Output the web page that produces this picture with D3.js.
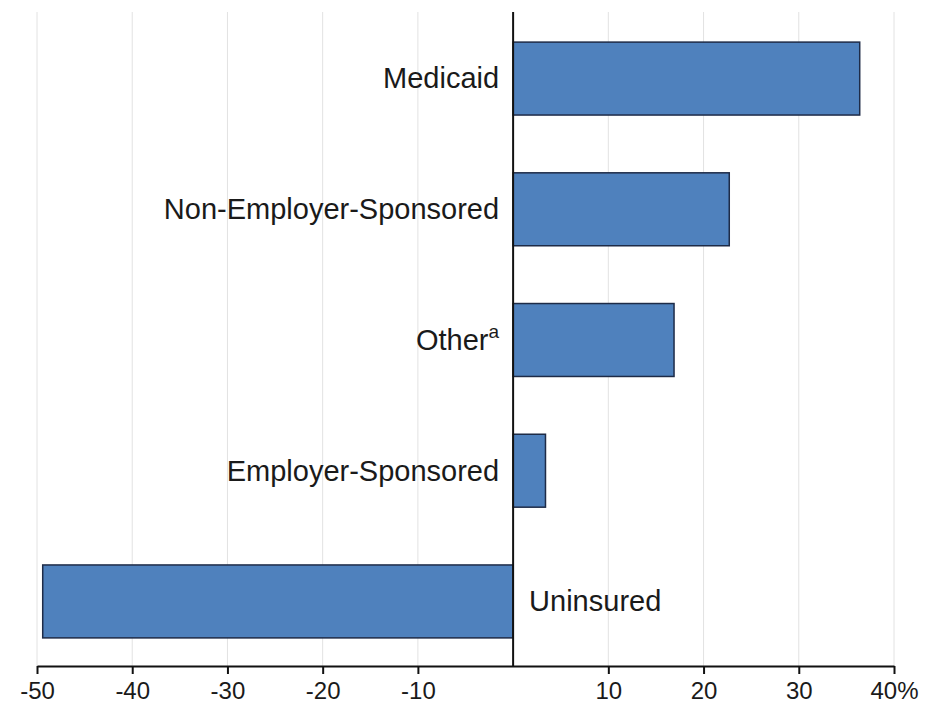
<!DOCTYPE html>
<html>
<head>
<meta charset="utf-8">
<script src="https://cdn.jsdelivr.net/npm/d3@7"></script>
<style>
  body { margin: 0; background: #fff; }
  text { font-family: "Liberation Sans", Arial, sans-serif; fill: #1a1a1a; }
</style>
</head>
<body>
<div id="chart"></div>
<script>
// categories, top to bottom
var categories = ['Medicaid', 'Non-Employer-Sponsored', 'Other', 'Employer-Sponsored', 'Uninsured'];
var values = [36.4, 22.7, 16.9, 3.4, -49.4];
var superscripts = ['', '', 'a', '', ''];
var tickValues = [-50, -40, -30, -20, -10, 10, 20, 30, 40];
var tickLabels = ['-50', '-40', '-30', '-20', '-10', '10', '20', '30', '40%'];

var W = 925, H = 707;
var margins = {left: 37, right: 31, top: 12, bottom: 41};

var svg = d3.select('#chart')
  .append('svg')
  .attr('width', W)
  .attr('height', H);

var x = d3.scaleLinear()
  .domain([-50, 40])
  .range([margins.left, W - margins.right]);

var axisY = H - margins.bottom;

var y = d3.scaleBand()
  .domain(categories)
  .range([margins.top + 2, axisY])
  .paddingInner(0.442)
  .paddingOuter(0.215);

// gridlines
svg.append('g')
  .selectAll('line')
  .data(tickValues)
  .enter().append('line')
  .attr('x1', function(d) { return x(d); })
  .attr('x2', function(d) { return x(d); })
  .attr('y1', margins.top)
  .attr('y2', axisY)
  .attr('stroke', '#e2e2e2')
  .attr('stroke-width', 1);

// bars
svg.append('g')
  .selectAll('rect')
  .data(values)
  .enter().append('rect')
  .attr('x', function(d) { return x(Math.min(0, d)); })
  .attr('y', function(d, i) { return y(categories[i]); })
  .attr('width', function(d) { return Math.abs(x(d) - x(0)); })
  .attr('height', y.bandwidth())
  .attr('fill', '#4f81bd')
  .attr('stroke', '#1e2b47')
  .attr('stroke-width', 1.5);

// category labels
var labels = svg.append('g')
  .selectAll('text')
  .data(categories)
  .enter().append('text')
  .attr('x', function(d, i) { return values[i] >= 0 ? x(0) - 14 : x(0) + 16; })
  .attr('y', function(d) { return y(d) + y.bandwidth() / 2; })
  .attr('dy', '0.34em')
  .attr('text-anchor', function(d, i) { return values[i] >= 0 ? 'end' : 'start'; })
  .style('font-size', '29px');

labels.append('tspan').text(function(d) { return d; });
labels.append('tspan')
  .attr('dy', '-0.6em')
  .style('font-size', '19px')
  .text(function(d, i) { return superscripts[i]; });

// x axis
var xAxis = d3.axisBottom(x)
  .tickValues(tickValues)
  .tickFormat(function(d, i) { return tickLabels[i]; })
  .tickSize(8)
  .tickPadding(8)
  .tickSizeOuter(0);

var gx = svg.append('g')
  .attr('transform', 'translate(0,' + axisY + ')')
  .call(xAxis);
gx.select('.domain').attr('stroke', '#111').attr('stroke-width', 2);
gx.selectAll('.tick line').attr('stroke', '#111').attr('stroke-width', 2);
gx.selectAll('.tick text')
  .style('font-size', '24px')
  .attr('fill', '#1a1a1a');

// zero line
svg.append('line')
  .attr('x1', x(0))
  .attr('x2', x(0))
  .attr('y1', margins.top)
  .attr('y2', axisY)
  .attr('stroke', '#111')
  .attr('stroke-width', 2);
</script>
</body>
</html>
